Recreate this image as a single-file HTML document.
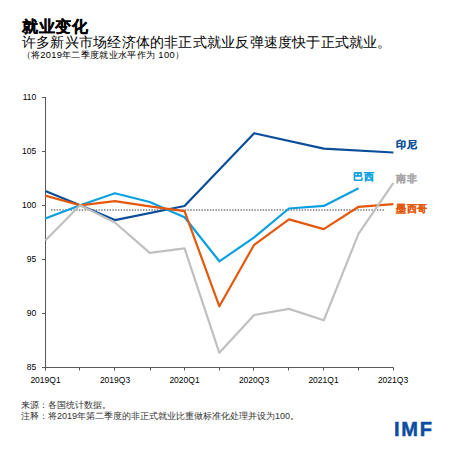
<!DOCTYPE html>
<html><head><meta charset="utf-8">
<style>
html,body{margin:0;padding:0;background:#fff;}
body{width:453px;height:453px;position:relative;overflow:hidden;font-family:"Liberation Sans",sans-serif;color:#000;}
.t{position:absolute;white-space:nowrap;line-height:1;}
#title{left:22px;top:19px;font-size:16px;letter-spacing:0.6px;font-weight:bold;-webkit-text-stroke:0.25px #000;}
#sub{left:22px;top:35px;font-size:14px;letter-spacing:0.22px;}
#note{left:21.5px;top:51.3px;font-size:9.3px;letter-spacing:0.33px;}
#src{left:21px;top:401px;font-size:9px;color:#333;}
#src2{left:21px;top:412px;font-size:9px;color:#333;}
#imf{left:394px;top:419px;font-size:20px;font-weight:bold;color:#0b4da2;letter-spacing:1.8px;-webkit-text-stroke:0.5px #0b4da2;}
svg{position:absolute;left:0;top:0;}
</style></head>
<body>
<div class="t" id="title">就业变化</div>
<div class="t" id="sub">许多新兴市场经济体的非正式就业反弹速度快于正式就业。</div>
<div class="t" id="note">（将2019年二季度就业水平作为 100）</div>
<svg width="453" height="453" viewBox="0 0 453 453">
  <g stroke="#595959" stroke-width="1" fill="none">
    <line x1="45.5" y1="97" x2="45.5" y2="370.5"/>
    <line x1="42" y1="367.5" x2="393.5" y2="367.5"/>
    <line x1="42" y1="97.5" x2="45.5" y2="97.5"/>
    <line x1="42" y1="151.5" x2="45.5" y2="151.5"/>
    <line x1="42" y1="205.5" x2="45.5" y2="205.5"/>
    <line x1="42" y1="259.5" x2="45.5" y2="259.5"/>
    <line x1="42" y1="313.5" x2="45.5" y2="313.5"/>
    <line x1="79.5" y1="367.5" x2="79.5" y2="370.5"/>
    <line x1="114.5" y1="367.5" x2="114.5" y2="370.5"/>
    <line x1="150.5" y1="367.5" x2="150.5" y2="370.5"/>
    <line x1="184.5" y1="367.5" x2="184.5" y2="370.5"/>
    <line x1="219.5" y1="367.5" x2="219.5" y2="370.5"/>
    <line x1="253.5" y1="367.5" x2="253.5" y2="370.5"/>
    <line x1="288.5" y1="367.5" x2="288.5" y2="370.5"/>
    <line x1="323.5" y1="367.5" x2="323.5" y2="370.5"/>
    <line x1="358.5" y1="367.5" x2="358.5" y2="370.5"/>
    <line x1="393.5" y1="367.5" x2="393.5" y2="370.5"/>
    </g>
  <line x1="51.1" y1="210" x2="384" y2="210" stroke="#777" stroke-width="1.4" stroke-dasharray="1.4,1.385"/>
  <g fill="none" stroke-width="2.2" stroke-linejoin="round">
    <polyline stroke="#0b4d9a" points="45.30,190.9 80.11,205.3 114.92,220.1 184.54,206 254.16,133.2 323.78,148.6 393.40,152.5"/>
    <polyline stroke="#0aa0e0" points="45.30,218.5 80.11,205.3 114.92,193.3 149.73,202 184.54,217.2 219.35,261.3 254.16,237.3 288.97,208.5 323.78,205.9 358.59,188.3"/>
    <polyline stroke="#e4580c" points="45.30,195.6 80.11,205.3 114.92,201.2 149.73,206.3 184.54,211.2 219.35,306.3 254.16,244.8 288.97,219.4 323.78,229.1 358.59,206.8 393.40,204.2"/>
    <polyline stroke="#c0c0c0" points="45.30,240.5 80.11,205.3 114.92,222.5 149.73,252.8 184.54,248.4 219.35,352.8 254.16,315 288.97,308.9 323.78,320.3 358.59,233.6 393.40,182.9"/>
  </g>
  <g font-family="Liberation Sans" font-size="8.5" fill="#000" text-anchor="end">
    <text x="36.3" y="100">110</text>
    <text x="36.3" y="154">105</text>
    <text x="36.3" y="208">100</text>
    <text x="36.3" y="262">95</text>
    <text x="36.3" y="316">90</text>
    <text x="36.3" y="370">85</text>
  </g>
  <g font-family="Liberation Sans" font-size="8.5" fill="#000" text-anchor="middle">
    <text x="45.5" y="383">2019Q1</text>
    <text x="115" y="383">2019Q3</text>
    <text x="184.5" y="383">2020Q1</text>
    <text x="254" y="383">2020Q3</text>
    <text x="323.5" y="383">2021Q1</text>
    <text x="393" y="383">2021Q3</text>
  </g>
  <g font-family="Liberation Sans" font-size="10.3" font-weight="bold" letter-spacing="0.7" stroke-width="0.15">
    <text x="396" y="148" fill="#0b4d9a" stroke="#0b4d9a">印尼</text>
    <text x="353" y="180.2" fill="#0aa0e0" stroke="#0aa0e0">巴西</text>
    <text x="396" y="182.4" fill="#a6a6a6" stroke="#a6a6a6">南非</text>
    <text x="396" y="211.9" fill="#e4580c" stroke="#e4580c">墨西哥</text>
  </g>
</svg>
<div class="t" id="src">来源：各国统计数据。</div>
<div class="t" id="src2">注释：将2019年第二季度的非正式就业比重做标准化处理并设为100。</div>
<div class="t" id="imf">IMF</div>
</body></html>
